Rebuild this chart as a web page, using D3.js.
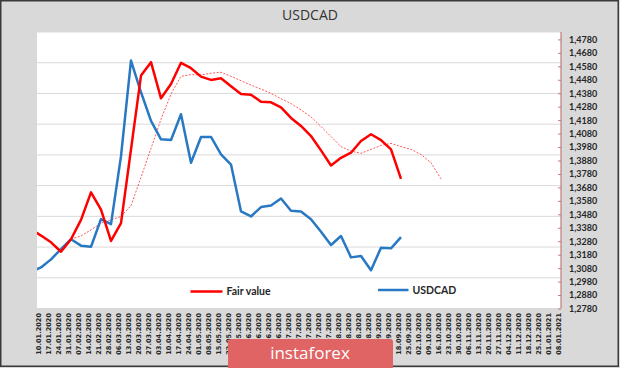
<!DOCTYPE html>
<html>
<head>
<meta charset="utf-8">
<script src="https://cdn.jsdelivr.net/npm/d3@7"></script>
<style>
  html, body { margin: 0; padding: 0; background: #d9d9d9; }
  svg { display: block; }
</style>
</head>
<body>
<svg id="chart" width="620" height="368"></svg>
<script>
// ---------------- DATA ----------------
const weeks = ["10.01.2020","17.01.2020","24.01.2020","31.01.2020","07.02.2020","14.02.2020","21.02.2020","28.02.2020",
  "06.03.2020","13.03.2020","20.03.2020","27.03.2020","03.04.2020","10.04.2020","17.04.2020","24.04.2020",
  "01.05.2020","08.05.2020","15.05.2020","22.05.2020","29.05.2020","05.06.2020","12.06.2020","19.06.2020",
  "26.06.2020","03.07.2020","10.07.2020","17.07.2020","24.07.2020","31.07.2020","07.08.2020","14.08.2020",
  "21.08.2020","28.08.2020","04.09.2020","11.09.2020","18.09.2020","25.09.2020","02.10.2020","09.10.2020",
  "16.10.2020","23.10.2020","30.10.2020","06.11.2020","13.11.2020","20.11.2020","27.11.2020","04.12.2020",
  "11.12.2020","18.12.2020","25.12.2020","01.01.2021","08.01.2021"];

// series start one week before the first axis label (first point is cut by the plot edge)
const seriesStart = -1;

const usdcad = [1.3054,1.3085,1.3145,1.3222,1.3295,1.3247,1.3239,1.3444,1.3407,1.3912,
  1.4623,1.4387,1.4174,1.4037,1.4032,1.4224,1.3863,1.4055,1.4055,1.3925,
  1.3850,1.3501,1.3464,1.3534,1.3546,1.3598,1.3506,1.3501,1.3444,1.3351,
  1.3252,1.3319,1.3160,1.3170,1.3065,1.3232,1.3227,1.3310];

const fairValue = [1.3369,1.3322,1.3272,1.3202,1.3295,1.3439,1.3643,1.3514,1.3282,1.3414,
  1.3963,1.4511,1.4611,1.4342,1.4449,1.4606,1.4566,1.4503,1.4479,1.4491,
  1.4432,1.4374,1.4369,1.4316,1.4312,1.4274,1.4196,1.4137,1.4062,1.3955,
  1.3843,1.3900,1.3938,1.4025,1.4075,1.4032,1.3963,1.3743];

// dotted trend of fair value, starting at series point 4
const trendStart = 4;
const fairTrend = [1.3295,1.3319,1.3364,1.3414,1.3439,1.3464,1.3544,1.3755,1.3970,1.4187,
  1.4374,1.4506,1.4518,1.4516,1.4529,1.4536,1.4506,1.4473,1.4441,1.4411,
  1.4379,1.4339,1.4303,1.4256,1.4204,1.4132,1.4058,1.3983,1.3950,1.3933,
  1.3963,1.3992,1.4007,1.3983,1.3963,1.3925,1.3863,1.3743];

const yTicks = d3.range(0, 21).map(k => +(1.2780 + k * 0.01).toFixed(4));
const gridSteps = d3.range(0, 10); // gridlines of the hidden primary axis
const title = "USDCAD";
const legendNames = ["Fair value", "USDCAD"];

// ---------------- LAYOUT ----------------
const W = 620, H = 368;
const plot = { left: 37, right: 561, top: 32, bottom: 308.5 };

const svg = d3.select("#chart");

svg.append("rect").attr("x", 0).attr("y", 0).attr("width", W).attr("height", H).attr("fill", "#d9d9d9");
svg.append("rect").attr("x", 0.75).attr("y", 0.75).attr("width", 617.5).attr("height", 365.5)
  .attr("fill", "none").attr("stroke", "#3a3a3a").attr("stroke-width", 1.5);

// plot area
svg.append("rect").attr("x", plot.left).attr("y", plot.top)
  .attr("width", plot.right - plot.left).attr("height", plot.bottom - plot.top).attr("fill", "#ffffff");

const x = d3.scaleLinear().domain([0, weeks.length - 1]).range([41, 561]);
const y = d3.scaleLinear().domain([1.2780, 1.4835]).range([plot.bottom, plot.top]);
const yGrid = d3.scaleLinear().domain([0, 9]).range([plot.bottom, plot.top]);

// gridlines
svg.append("g").selectAll("line").data(gridSteps).join("line")
  .attr("x1", plot.left).attr("x2", plot.right)
  .attr("y1", d => yGrid(d)).attr("y2", d => yGrid(d))
  .attr("stroke", "#d9d9d9").attr("stroke-width", 1);

// title
svg.append("text").attr("x", 310).attr("y", 20).attr("text-anchor", "middle")
  .attr("font-family", "'Open Sans', sans-serif").attr("font-size", 14).attr("fill", "#333")
  .text(title);

// clip
svg.append("clipPath").attr("id", "clip").append("rect")
  .attr("x", plot.left).attr("y", plot.top - 2)
  .attr("width", plot.right - plot.left).attr("height", plot.bottom - plot.top + 4);

const line = (start) => d3.line()
  .x((d, i) => x(i + start))
  .y(d => y(d));

const g = svg.append("g").attr("clip-path", "url(#clip)");

g.append("path").datum(fairTrend)
  .attr("d", line(seriesStart + trendStart))
  .attr("fill", "none").attr("stroke", "#ff5a5a").attr("stroke-width", 1)
  .attr("stroke-dasharray", "2,1.5");

g.append("path").datum(usdcad)
  .attr("d", line(seriesStart))
  .attr("fill", "none").attr("stroke", "#2878c4").attr("stroke-width", 2.5)
  .attr("stroke-linejoin", "round");

g.append("path").datum(fairValue)
  .attr("d", line(seriesStart))
  .attr("fill", "none").attr("stroke", "#ff0000").attr("stroke-width", 2.5)
  .attr("stroke-linejoin", "round");

// right axis
const fmt = d => d3.format(".4f")(d).replace(".", ",");
const yAxis = d3.axisRight(y).tickValues(yTicks).tickSize(-3).tickPadding(8).tickFormat(fmt);
const ya = svg.append("g").attr("transform", `translate(${plot.right},0)`).call(yAxis);
ya.select(".domain").attr("stroke", "#c07a7a").attr("stroke-width", 1.2).attr("d", `M0,${plot.top}V${plot.bottom}`);
ya.selectAll(".tick line").attr("stroke", "#c07a7a");
ya.selectAll(".tick text").attr("font-family", "Lato, sans-serif").attr("font-weight", "bold")
  .attr("font-size", 9).attr("fill", "#262626");

// x labels
svg.append("g").selectAll("text").data(weeks).join("text")
  .attr("transform", (d, i) => `translate(${x(i)},313) rotate(-90)`)
  .attr("text-anchor", "end")
  .attr("font-family", "'DejaVu Sans', sans-serif").attr("font-weight", "bold")
  .attr("font-size", 6.6).attr("fill", "#262626")
  .text(d => d);

// legend
const legend = [
  { name: legendNames[0], color: "#ff0000", x1: 190.5, x2: 222.5, ty: 291.5 },
  { name: legendNames[1], color: "#2878c4", x1: 378, x2: 408.5, ty: 290 }
];
const lg = svg.append("g").selectAll("g").data(legend).join("g");
lg.append("line").attr("x1", d => d.x1).attr("x2", d => d.x2).attr("y1", d => d.ty).attr("y2", d => d.ty)
  .attr("stroke", d => d.color).attr("stroke-width", 2.5);
lg.append("text").attr("x", d => d.x2 + 4).attr("y", d => d.ty + 3.8)
  .attr("font-family", "Lato, sans-serif").attr("font-weight", "bold").attr("font-size", 10.5)
  .attr("fill", "#262626").text(d => d.name);

// watermark
svg.append("rect").attr("x", 228).attr("y", 339).attr("width", 165).attr("height", 34).attr("rx", 3)
  .attr("fill", "#e06464");
svg.append("text").attr("x", 310).attr("y", 359).attr("text-anchor", "middle")
  .attr("font-family", "'Open Sans', sans-serif").attr("font-size", 17).attr("fill", "#ffffff")
  .text("instaforex");
</script>
</body>
</html>
